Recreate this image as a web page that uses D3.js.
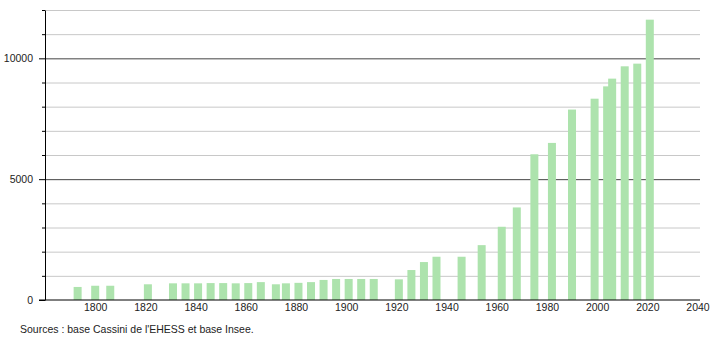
<!DOCTYPE html>
<html>
<head>
<meta charset="UTF-8">
<title>Population</title>
<script src="https://d3js.org/d3.v7.min.js"></script>
<style>
  body { margin: 0; background: #fff; }
  text { font-family: "Liberation Sans", Arial, sans-serif; font-size: 10.5px; fill: #222; }
  .grid line { stroke: #c8c8c8; stroke-width: 1; }
  .grid line.major { stroke: #444; }
  .bar { fill: #ade3ad; }
</style>
</head>
<body>
<svg id="chart" width="710" height="340"></svg>
<script>
// census years and population
const years = [1793, 1800, 1806, 1821, 1831, 1836, 1841, 1846, 1851, 1856,
               1861, 1866, 1872, 1876, 1881, 1886, 1891, 1896, 1901, 1906,
               1911, 1921, 1926, 1931, 1936, 1946, 1954, 1962, 1968, 1975,
               1982, 1990, 1999, 2004, 2006, 2011, 2016, 2021];
const population = [540, 590, 590, 650, 690, 690, 690, 700, 700, 690,
                    700, 740, 650, 690, 710, 740, 830, 870, 870, 870,
                    870, 855, 1240, 1570, 1790, 1790, 2270, 3030, 3830, 6030,
                    6500, 7880, 8330, 8840, 9160, 9670, 9780, 11600];
const xTicks = [1800, 1820, 1840, 1860, 1880, 1900, 1920, 1940, 1960, 1980, 2000, 2020, 2040];
const yTicks = d3.range(0, 12001, 1000);
const yLabels = [0, 5000, 10000];
const source = "Sources : base Cassini de l'EHESS et base Insee.";

const svg = d3.select("#chart");
const mLeft = 45, mRight = 700, mTop = 10, mBottom = 300;

const x = d3.scaleLinear().domain([1780, 2041]).range([mLeft, mRight]);
const y = d3.scaleLinear().domain([0, 12000]).range([mBottom, mTop]);

// gridlines
const grid = svg.append("g")
    .attr("class", "grid")
    .attr("transform", `translate(${mLeft},0)`)
    .call(d3.axisLeft(y).tickValues(yTicks.filter(v => v > 0)).tickSize(-(mRight - mLeft)).tickFormat(""));
grid.select(".domain").remove();
grid.selectAll(".tick line").classed("major", d => d % 5000 === 0);

// bars
const barW = 8;
svg.append("g")
  .selectAll("rect")
  .data(years.map((yr, i) => ({ year: yr, value: population[i] })))
  .enter().append("rect")
    .attr("class", "bar")
    .attr("x", d => x(d.year) - barW / 2)
    .attr("width", barW)
    .attr("y", d => y(d.value))
    .attr("height", d => y(0) - y(d.value));

// y axis
const yAxis = svg.append("g")
    .attr("transform", `translate(${mLeft},0)`)
    .call(d3.axisLeft(y).tickValues(yTicks).tickSizeOuter(0)
      .tickFormat(d => yLabels.includes(d) ? d : ""));
yAxis.selectAll(".tick line")
    .attr("x2", d => d % 5000 === 0 ? -6 : -3)
    .attr("stroke", "#000");
yAxis.selectAll(".tick text").attr("x", -12);
yAxis.select(".domain").attr("stroke", "#000");

// x axis
const xAxis = svg.append("g")
    .attr("transform", `translate(0,${mBottom})`)
    .call(d3.axisBottom(x).tickValues(xTicks).tickSize(0).tickFormat(d3.format("d")));
xAxis.select(".domain").remove();
xAxis.append("line")
    .attr("x1", mLeft - 6).attr("x2", mRight)
    .attr("stroke", "#000");
xAxis.selectAll(".tick text").attr("y", 4).attr("dy", "0.71em");

svg.append("text")
    .attr("x", 20)
    .attr("y", 333)
    .text(source);
</script>
</body>
</html>
